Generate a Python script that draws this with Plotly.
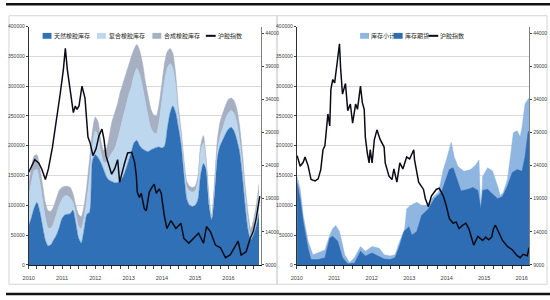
import plotly.graph_objects as go
import pandas as pd

# ---------------- data ----------------
# Left panel: monthly inventories (thousand tonnes), Jan 2010 .. Dec 2016
UNIT = 1000
left_months = pd.date_range("2010-01-01", periods=84, freq="MS")
natural = [66, 80, 95, 105, 90, 65, 42, 32, 34, 42, 50, 62,
           78, 84, 85, 86, 92, 70, 45, 37, 60, 85, 89, 175,
           185, 180, 172, 160, 148, 142, 140, 138, 138, 142, 148, 160,
           175, 190, 205, 209, 200, 195, 192, 190, 193, 195, 197, 198,
           196, 200, 228, 255, 267, 255, 230, 200, 150, 110, 100, 98,
           100, 110, 150, 170, 160, 100, 75, 120, 180, 200, 210, 220,
           228, 231, 225, 210, 190, 150, 100, 60, 42, 50, 65, 85]
composite = [49, 60, 63, 55, 50, 45, 38, 30, 28, 28, 35, 38,
             32, 32, 31, 26, 13, 15, 20, 24, 20, 25, 61, 25,
             40, 35, 18, 12, 24, 38, 48, 57, 72, 86, 100, 105,
             110, 110, 113, 121, 120, 105, 83, 60, 37, 27, 23, 42,
             79, 110, 102, 83, 63, 45, 20, 15, 15, 20, 24, 24,
             24, 30, 40, 35, 10, 10, 5, 10, 10, 15, 20, 25,
             27, 28, 30, 30, 20, 20, 20, 15, 6, 12, 23, 35]
synthetic = [23, 25, 25, 25, 25, 25, 25, 29, 28, 28, 27, 25,
             20, 16, 16, 18, 15, 15, 20, 20, 20, 25, 30, 25,
             23, 25, 20, 20, 23, 35, 52, 60, 60, 62, 57, 55,
             50, 50, 44, 40, 40, 40, 35, 35, 32, 30, 30, 30,
             30, 30, 28, 25, 25, 20, 15, 10, 10, 10, 8, 8,
             8, 10, 10, 12, 10, 5, 2, 10, 20, 25, 25, 23,
             23, 21, 21, 22, 25, 20, 15, 15, 12, 13, 12, 15]

left_index_years = [2010.00, 2010.09, 2010.18, 2010.30, 2010.39, 2010.50, 2010.59, 2010.71, 2010.83, 2010.95,
                    2011.04, 2011.10, 2011.16, 2011.25, 2011.34, 2011.40, 2011.45, 2011.51, 2011.60, 2011.69,
                    2011.78, 2011.84, 2011.93, 2012.02, 2012.11, 2012.20, 2012.26, 2012.32, 2012.40, 2012.49,
                    2012.58, 2012.67, 2012.73, 2012.82, 2012.88, 2012.97, 2013.09, 2013.18, 2013.23, 2013.26,
                    2013.32, 2013.38, 2013.47, 2013.53, 2013.62, 2013.71, 2013.77, 2013.83, 2013.92, 2013.98,
                    2014.07, 2014.15, 2014.27, 2014.36, 2014.42, 2014.57, 2014.66, 2014.81, 2014.96, 2015.10,
                    2015.25, 2015.34, 2015.46, 2015.61, 2015.76, 2015.91, 2016.05, 2016.20, 2016.29, 2016.38,
                    2016.53, 2016.65, 2016.74, 2016.83, 2016.94]
left_index = [23000, 24000, 24900, 24400, 23500, 21900, 23500, 26700, 30500, 35000,
              38500, 41700, 38500, 35000, 32000, 33000, 32500, 33000, 36000, 34200,
              28300, 27500, 25500, 26500, 28500, 29500, 28000, 25500, 24000, 22700,
              23500, 24900, 21500, 23500, 24400, 25900, 26000, 24500, 22500, 20000,
              19200, 19800, 17500, 17200, 20000, 20800, 21200, 19800, 20500, 19800,
              16500, 14500, 15700, 15000, 14500, 15300, 13000, 12300, 13000, 13800,
              12300, 14800, 14000, 12000, 11600, 10100, 10500, 11800, 12600, 10500,
              11000, 13000, 14000, 16000, 19400]

# Right panel: SHFE stocks (thousand tonnes) and index
subtotal_years = [2010.01, 2010.09, 2010.17, 2010.30, 2010.43, 2010.57, 2010.75, 2010.88, 2010.96, 2011.04,
                  2011.14, 2011.28, 2011.41, 2011.54, 2011.70, 2011.83, 2012.01, 2012.20, 2012.33, 2012.49,
                  2012.62, 2012.75, 2012.88, 2012.93, 2013.01, 2013.20, 2013.33, 2013.46, 2013.59, 2013.78,
                  2013.91, 2013.99, 2014.07, 2014.12, 2014.20, 2014.30, 2014.46, 2014.64, 2014.78, 2014.86,
                  2014.91, 2014.96, 2015.09, 2015.22, 2015.36, 2015.43, 2015.51, 2015.62, 2015.70, 2015.78,
                  2015.88, 2015.96, 2016.01, 2016.09, 2016.17, 2016.20]
subtotal = [148, 127, 83, 40, 17, 20, 25, 50, 61, 66,
            56, 17, 4, 12, 31, 23, 31, 28, 17, 15,
            17, 40, 61, 94, 99, 105, 100, 100, 111, 122,
            160, 176, 193, 206, 181, 165, 157, 160, 168, 176,
            89, 148, 163, 158, 132, 116, 122, 143, 181, 222,
            225, 215, 231, 270, 278, 280]
futures_years = [2010.01, 2010.09, 2010.17, 2010.30, 2010.38, 2010.57, 2010.75, 2010.88, 2010.96, 2011.09,
                 2011.22, 2011.36, 2011.54, 2011.70, 2011.83, 2012.01, 2012.17, 2012.33, 2012.49, 2012.62,
                 2012.72, 2012.86, 2012.99, 2013.07, 2013.20, 2013.33, 2013.51, 2013.67, 2013.86, 2013.99,
                 2014.07, 2014.17, 2014.25, 2014.38, 2014.57, 2014.70, 2014.83, 2014.91, 2014.96, 2015.09,
                 2015.22, 2015.36, 2015.49, 2015.62, 2015.75, 2015.88, 2016.01, 2016.09, 2016.17, 2016.20]
futures = [138, 111, 73, 28, 9, 9, 12, 45, 48, 40,
           12, 2, 3, 23, 15, 20, 15, 10, 9, 12,
           28, 56, 64, 50, 56, 83, 94, 111, 122, 148,
           160, 163, 148, 124, 127, 130, 125, 94, 125, 127,
           119, 111, 115, 132, 155, 160, 157, 181, 222, 225]

right_index_years = [2010.01, 2010.09, 2010.17, 2010.22, 2010.30, 2010.38, 2010.49, 2010.57, 2010.64, 2010.70,
                     2010.75, 2010.83, 2010.88, 2010.91, 2010.96, 2011.01, 2011.09, 2011.14, 2011.17, 2011.22,
                     2011.30, 2011.36, 2011.43, 2011.49, 2011.57, 2011.62, 2011.70, 2011.75, 2011.80, 2011.83,
                     2011.88, 2011.93, 2011.96, 2012.01, 2012.07, 2012.14, 2012.22, 2012.33, 2012.36, 2012.46,
                     2012.54, 2012.59, 2012.67, 2012.75, 2012.83, 2012.93, 2013.01, 2013.12, 2013.14, 2013.25,
                     2013.38, 2013.43, 2013.51, 2013.59, 2013.72, 2013.80, 2013.91, 2013.99, 2014.07, 2014.17,
                     2014.25, 2014.33, 2014.43, 2014.51, 2014.59, 2014.72, 2014.83, 2014.96, 2015.04, 2015.12,
                     2015.20, 2015.25, 2015.30, 2015.38, 2015.49, 2015.62, 2015.75, 2015.88, 2015.96, 2016.04,
                     2016.15, 2016.20]
right_index = [25500, 23900, 24500, 25300, 24000, 21900, 21700, 22000, 23400, 26400,
               27000, 31800, 30000, 35500, 37000, 36500, 40100, 42400, 38700, 34800,
               36400, 32300, 33300, 30400, 33300, 32500, 36000, 33500, 32500, 28300,
               26000, 24400, 26400, 24400, 27900, 29400, 28000, 26800, 24400, 22400,
               21900, 23500, 21500, 24400, 23500, 25300, 25000, 26400, 24900, 21500,
               20400, 19000, 17800, 19400, 20400, 20600, 19400, 17900, 16000, 15300,
               15500, 14500, 15000, 15300, 14500, 12000, 13300, 12700, 13200, 12800,
               13200, 14500, 15000, 14000, 12700, 11800, 11300, 10400, 10100, 10600,
               10400, 11600]

left_names = ["天然橡胶库存", "复合橡胶库存", "合成橡胶库存", "沪胶指数"]
right_names = ["库存小计", "库存期货", "沪胶指数"]
inv_ticks = list(range(0, 400001, 50000))
idx_ticks = list(range(9000, 44001, 5000))


def to_dates(years):
    out = []
    for d in years:
        y = int(d)
        s = pd.Timestamp(y, 1, 1)
        e = pd.Timestamp(y + 1, 1, 1)
        out.append(s + (e - s) * (d - y))
    return out


# ---------------- styles ----------------
C_NAT = "#2f70b6"
C_COMP = "#bdd7ee"
C_SYN = "#a7b0c3"
C_SUB = "#8fb5e1"
C_FUT = "#2e6db4"
C_LINE = "#0b0b18"
FAM = "Liberation Sans Narrow, Arial Narrow, Liberation Sans, sans-serif"
XFONT = dict(family=FAM, size=5.5, color="#404040")
YFONT = dict(family=FAM, size=5, color="#404040")
CJK = dict(family="Noto Sans CJK SC, sans-serif", size=6, color="#262626")

W, H = 550, 300
def px(x):
    return x / W
def py(y):
    return 1 - y / H

fig = go.Figure()

inv_scaled = lambda arr: [v * UNIT for v in arr]

for name, arr, col in [(left_names[0], natural, C_NAT), (left_names[1], composite, C_COMP),
                       (left_names[2], synthetic, C_SYN)]:
    fig.add_trace(go.Scatter(x=left_months, y=inv_scaled(arr), name=name, mode="lines",
                             stackgroup="L", fillcolor=col,
                             line=dict(width=0.5, color=col, shape="spline", smoothing=0.6),
                             xaxis="x", yaxis="y", showlegend=False))
fig.add_trace(go.Scatter(x=to_dates(left_index_years), y=left_index, name=left_names[3], mode="lines",
                         line=dict(color=C_LINE, width=1.5), xaxis="x", yaxis="y2", showlegend=False))

fig.add_trace(go.Scatter(x=to_dates(subtotal_years), y=inv_scaled(subtotal), name=right_names[0], mode="lines",
                         fill="tozeroy", fillcolor=C_SUB, line=dict(width=0.5, color=C_SUB),
                         xaxis="x2", yaxis="y3", showlegend=False))
fig.add_trace(go.Scatter(x=to_dates(futures_years), y=inv_scaled(futures), name=right_names[1], mode="lines",
                         fill="tozeroy", fillcolor=C_FUT, line=dict(width=0.5, color=C_FUT),
                         xaxis="x2", yaxis="y3", showlegend=False))
fig.add_trace(go.Scatter(x=to_dates(right_index_years), y=right_index, name=right_names[2], mode="lines",
                         line=dict(color=C_LINE, width=1.5), xaxis="x2", yaxis="y4", showlegend=False))

ydom = [py(267.3), py(24)]
xaxis_common = dict(type="date", tickformat="%Y", dtick="M12", tick0="2010-01-01",
                    ticks="outside", ticklen=3, tickcolor="#404040", showline=True, linecolor="#202020",
                    linewidth=1, showgrid=False, tickfont=XFONT, zeroline=False, ticklabelstandoff=4,
                    minor=dict(dtick="M3", ticks="outside", ticklen=3, tickcolor="#404040", showgrid=False))
inv_axis = dict(range=[0, 400000], tickvals=inv_ticks, ticktext=[str(v) for v in inv_ticks],
                showgrid=True, gridcolor="#d9d9d9", gridwidth=1, showline=True, linecolor="#303030",
                ticks="outside", ticklen=2, tickcolor="#404040", tickfont=YFONT, zeroline=False, domain=ydom)
idx_axis = dict(range=[9000, 45000], tickvals=idx_ticks, ticktext=[str(v) for v in idx_ticks],
                showgrid=False, showline=True, linecolor="#7f7f7f", ticks="outside", ticklen=2,
                tickcolor="#404040", tickfont=YFONT, zeroline=False, side="right")

fig.update_layout(
    width=W, height=H, margin=dict(l=0, r=0, t=0, b=0),
    paper_bgcolor="white", plot_bgcolor="white",
    xaxis=dict(domain=[px(23), px(258)], range=["2010-01-01", "2016-12-25"], anchor="y", **xaxis_common),
    xaxis2=dict(domain=[px(294), px(529)], range=["2010-01-01", "2016-03-15"], anchor="y3", **xaxis_common),
    yaxis=dict(anchor="x", **inv_axis),
    yaxis2=dict(anchor="x", overlaying="y", **idx_axis),
    yaxis3=dict(anchor="x2", **inv_axis),
    yaxis4=dict(anchor="x2", overlaying="y3", **idx_axis),
    showlegend=False,
)

shapes = []
# panel frames
shapes.append(dict(type="rect", xref="paper", yref="paper", x0=px(3), x1=px(274), y0=py(287), y1=py(13),
                   line=dict(color="#d4d4d4", width=1), layer="below"))
shapes.append(dict(type="rect", xref="paper", yref="paper", x0=px(274), x1=px(547), y0=py(287), y1=py(13),
                   line=dict(color="#d4d4d4", width=1), layer="below"))
# black rules
shapes.append(dict(type="line", xref="paper", yref="paper", x0=0, x1=1, y0=py(1.2), y1=py(1.2),
                   line=dict(color="#111111", width=2.5)))
shapes.append(dict(type="line", xref="paper", yref="paper", x0=0, x1=1, y0=py(297), y1=py(297),
                   line=dict(color="#111111", width=2.5)))

annotations = []
def legend_box(x0, x1, yc, color):
    shapes.append(dict(type="rect", xref="paper", yref="paper", x0=px(x0), x1=px(x1),
                       y0=py(yc + 3), y1=py(yc - 3), line=dict(width=0), fillcolor=color))
def legend_line(x0, x1, yc):
    shapes.append(dict(type="line", xref="paper", yref="paper", x0=px(x0), x1=px(x1),
                       y0=py(yc), y1=py(yc), line=dict(color=C_LINE, width=2)))
def legend_text(x, yc, text):
    annotations.append(dict(xref="paper", yref="paper", x=px(x), y=py(yc), text=text, showarrow=False,
                            xanchor="left", yanchor="middle", font=CJK))

YL = 33.5
legend_box(37, 46, YL, C_NAT); legend_text(47, YL, left_names[0])
legend_box(92, 101, YL, C_COMP); legend_text(102, YL, left_names[1])
legend_box(148, 157, YL, C_SYN); legend_text(158, YL, left_names[2])
legend_line(202, 212, YL); legend_text(212, YL, left_names[3])

legend_box(358, 367, YL, C_SUB); legend_text(367, YL, right_names[0])
legend_box(392, 401, YL, C_FUT); legend_text(401, YL, right_names[1])
legend_line(427, 437, YL); legend_text(437, YL, right_names[2])

fig.update_layout(shapes=shapes, annotations=annotations)
fig.write_html("out.html")
